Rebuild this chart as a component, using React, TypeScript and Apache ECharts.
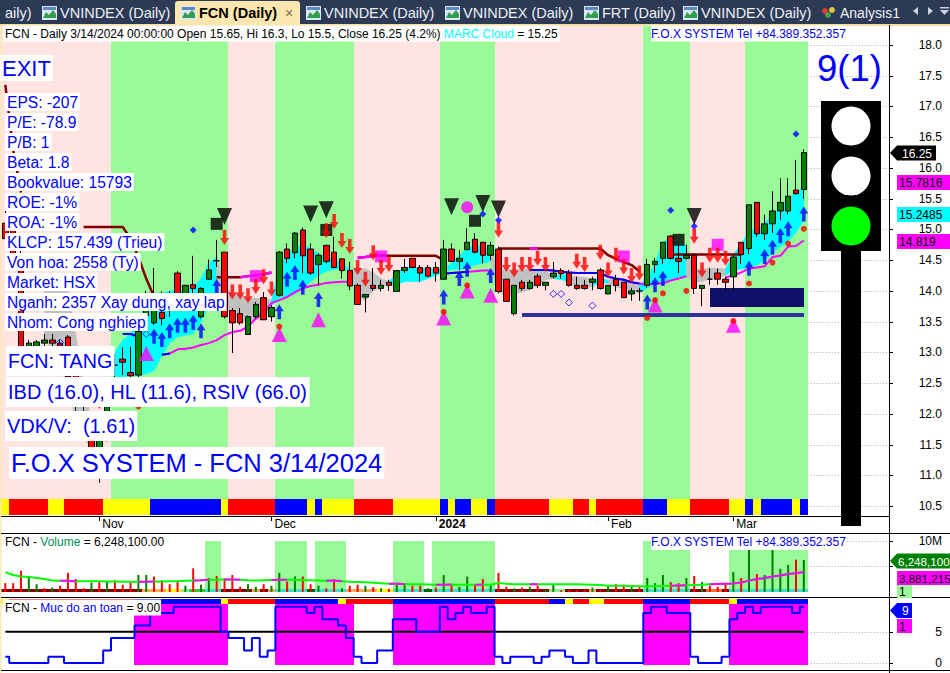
import React, { useEffect, useRef } from "react";
import * as echarts from "echarts";

const FF = '"Liberation Sans", Arial, sans-serif';
const f = (s: number, b = false) => `${b ? "bold " : ""}${s}px ${FF}`;

const GREEN = "#98fb98", PINK = "#ffe4e1", RED = "#ff0000", BLUE = "#0000ff", YEL = "#ffff00", MAG = "#ff00ff";
const CYAN = "#00ffff", GRAY = "#c0c0c0", DRED = "#800000", ORG = "#ffa858", TUR = "#40e0d0", DGR = "#006400", LGR = "#90ee90", MGR = "#32cd32", ORR = "#ff7030";

const categories = [
  "2023-10-16","2023-10-17","2023-10-18","2023-10-19","2023-10-20","2023-10-23","2023-10-24","2023-10-25","2023-10-26","2023-10-27","2023-10-30","2023-10-31",
  "2023-11-01","2023-11-02","2023-11-03","2023-11-06","2023-11-07","2023-11-08","2023-11-09","2023-11-10","2023-11-13","2023-11-14","2023-11-15","2023-11-16","2023-11-17","2023-11-20","2023-11-21","2023-11-22","2023-11-23","2023-11-24","2023-11-27","2023-11-28","2023-11-29","2023-11-30",
  "2023-12-01","2023-12-04","2023-12-05","2023-12-06","2023-12-07","2023-12-08","2023-12-11","2023-12-12","2023-12-13","2023-12-14","2023-12-15","2023-12-18","2023-12-19","2023-12-20","2023-12-21","2023-12-22","2023-12-25","2023-12-26","2023-12-27","2023-12-28","2023-12-29",
  "2024-01-02","2024-01-03","2024-01-04","2024-01-05","2024-01-08","2024-01-09","2024-01-10","2024-01-11","2024-01-12","2024-01-15","2024-01-16","2024-01-17","2024-01-18","2024-01-19","2024-01-22","2024-01-23","2024-01-24","2024-01-25","2024-01-26","2024-01-29","2024-01-30","2024-01-31",
  "2024-02-01","2024-02-02","2024-02-05","2024-02-06","2024-02-07","2024-02-15","2024-02-16","2024-02-19","2024-02-20","2024-02-21","2024-02-22","2024-02-23","2024-02-26","2024-02-27","2024-02-28","2024-02-29",
  "2024-03-01","2024-03-04","2024-03-05","2024-03-06","2024-03-07","2024-03-08","2024-03-11","2024-03-12","2024-03-13","2024-03-14",
  "+1","+2","+3","+4","+5","+6","+7","+8","+9","+10",
];
const monthLabels: Record<string, string> = { "2023-11-01": "Nov", "2023-12-01": "Dec", "2024-01-02": "2024", "2024-02-01": "Feb", "2024-03-01": "Mar" };

const opens = [
  15.1,15.05,14.6,12.95,12.95,13.15,13.2,13.15,13.25,12.75,12.5,11.57,11.4,11.6,12.79,12.89,12.67,12.63,13.6,13.48,
  13.65,13.7,14.29,13.85,14.1,13.58,14.19,14.49,14.63,13.68,13.63,13.29,13.58,13.89,13.58,13.93,14.68,14.62,14.99,14.68,
  14.43,14.74,14.63,14.52,14.33,14.09,13.9,14.09,14.04,14.14,13.99,14.33,14.53,14.38,14.38,14.38,14.19,14.68,14.48,14.67,
  14.84,14.79,14.58,14.68,14.19,13.63,14.14,14.04,14.24,14.09,14.23,14.33,14.29,14.09,14.09,14.14,14.34,13.95,14.19,14.14,
  13.95,14.0,14.09,14.43,14.53,14.89,14.53,14.53,14.58,14.04,14.19,14.29,14.19,14.23,14.79,14.69,15.44,14.93,15.09,15.3,
  15.3,15.64,15.65,
];
const closes = [
  14.85,14.6,12.9,13.15,13.17,13.2,13.15,13.05,12.6,12.35,12.3,11.4,11.57,12.3,12.79,12.84,12.62,13.34,13.95,13.68,
  13.55,13.85,13.91,14.09,14.04,14.04,14.34,14.49,13.58,13.48,13.48,13.58,13.78,13.53,13.73,14.63,14.53,14.94,14.57,14.29,
  14.58,14.48,14.38,14.33,14.08,13.78,13.94,14.04,14.09,14.09,14.33,14.38,14.38,14.29,14.24,14.29,14.68,14.48,14.53,14.79,
  14.63,14.58,14.74,13.99,13.83,14.09,14.04,14.14,14.09,14.14,14.29,14.28,14.09,14.04,14.04,14.19,14.04,14.09,14.09,13.89,
  14.0,14.0,14.43,14.48,14.79,14.53,14.48,14.58,14.04,14.09,14.19,14.19,14.14,14.55,14.59,15.4,14.93,15.09,15.3,15.44,
  15.54,15.58,16.25,
];
const highs = [
  15.4,15.1,14.65,13.2,13.2,13.3,13.3,13.2,13.28,12.8,12.55,11.6,11.6,12.35,12.97,13.08,13.09,13.36,14.0,14.37,
  13.99,13.99,14.32,14.1,14.57,14.06,14.51,14.83,14.63,13.72,13.72,13.6,13.82,13.98,13.77,14.65,14.77,14.96,15.03,14.77,
  14.61,14.75,14.88,14.53,14.47,14.12,13.94,14.37,14.18,14.18,14.34,14.52,14.53,14.42,14.42,14.47,14.83,14.77,14.66,15.02,
  14.94,14.8,14.8,14.72,14.19,14.09,14.18,14.18,14.28,14.14,14.47,14.37,14.34,14.23,14.18,14.23,14.37,14.09,14.26,14.14,
  14.05,14.05,14.52,14.53,14.79,14.91,14.75,14.75,14.61,14.09,14.37,14.36,14.23,14.58,14.79,15.4,15.44,15.24,15.62,15.83,
  15.83,16.13,16.3,
];
const lows = [
  14.85,14.55,12.85,12.9,12.9,13.05,13.05,12.9,12.55,12.05,12.05,11.35,10.88,11.55,12.56,12.63,12.55,12.6,13.55,13.45,
  13.44,13.58,13.88,13.8,13.85,13.55,14.18,14.39,13.55,12.99,13.45,13.29,13.55,13.53,13.5,13.91,14.45,14.53,14.29,14.26,
  14.1,14.45,14.37,14.2,14.01,13.77,13.65,14.0,13.99,14.0,13.99,14.29,14.37,14.15,14.23,14.15,14.18,14.47,14.34,14.67,
  14.61,14.45,14.5,13.96,13.82,13.6,14.0,14.02,14.05,14.01,14.2,14.2,14.07,14.02,14.02,14.01,14.02,13.95,13.99,13.89,
  13.84,13.84,14.05,14.29,14.44,14.51,14.29,14.51,13.95,13.75,14.1,14.1,14.01,14.01,14.44,14.6,14.88,14.83,14.94,15.16,
  15.24,15.59,15.5,
];
const cloudTop: (number | null)[] = [
  null,null,null,null,null,14.0,14.2,14.2,14.0,13.3,12.5,11.9,11.6,null,13.0,13.2,13.3,13.5,13.8,13.96,
  13.96,14.0,14.0,14.03,14.06,14.2,14.45,14.55,14.1,13.95,13.95,13.88,13.88,13.87,13.85,14.4,14.6,14.7,14.75,14.7,
  14.6,14.55,14.5,14.45,14.35,14.38,14.36,14.3,14.2,14.15,14.3,14.38,14.38,14.37,14.36,14.35,14.35,14.45,14.58,14.68,
  14.75,14.72,14.68,14.35,14.35,14.35,14.35,14.35,14.35,14.32,14.24,14.27,14.25,14.23,14.22,14.2,14.19,14.18,14.19,14.18,
  14.15,14.1,14.2,14.45,14.8,14.85,14.78,14.73,14.35,14.36,14.37,14.37,14.36,14.6,14.75,15.0,15.0,15.1,15.25,15.35,
  15.5,15.6,15.7,
];
const cloudBottom: (number | null)[] = [
  null,null,null,null,null,13.2,13.05,12.8,12.4,11.9,11.6,11.45,11.4,null,12.6,12.6,12.62,12.63,12.65,12.7,
  12.95,13.15,13.25,13.28,13.3,13.5,13.75,13.95,13.9,13.48,13.5,13.5,13.53,13.56,13.75,13.9,13.9,13.95,14.05,14.15,
  14.25,14.32,14.35,14.36,14.33,13.9,13.84,14.0,14.05,14.1,14.1,14.15,14.15,14.15,14.2,14.25,14.3,14.35,14.35,14.38,
  14.42,14.45,14.48,13.98,13.92,13.95,13.98,14.02,14.1,14.18,14.2,14.18,14.15,14.05,14.05,14.07,14.15,14.12,14.06,14.03,
  14.0,13.96,14.05,14.1,14.15,14.18,14.2,14.22,14.15,14.15,14.2,14.22,14.25,14.33,14.35,14.38,14.42,14.5,14.62,14.72,
  14.8,14.95,15.15,
];
const cloudCyanRuns = [[14,27],[35,44],[50,62],[71,72],[76,77],[82,87],[93,102]];

const stopLine: (number | null)[] = [
  17.35,16.3,15.6,null,null,null,null,null,null,null,15.04,15.04,15.04,15.04,15.04,15.04,14.85,14.55,14.2,13.9,
  null,null,null,null,null,null,null,14.22,14.22,14.22,14.22,14.24,14.25,14.27,14.3,null,null,null,null,null,
  null,null,null,null,null,14.54,14.55,14.57,14.58,14.57,14.57,14.57,14.57,14.57,14.57,14.57,14.5,null,null,null,
  null,null,null,14.69,14.69,14.69,14.69,14.69,14.69,14.69,14.69,14.69,14.69,14.69,14.69,14.69,14.69,14.58,14.52,14.47,
  14.42,14.32,null,null,null,14.59,14.59,14.59,14.59,14.59,14.59,14.59,14.59,14.59,14.59,null,null,null,null,null,
  null,null,null,
];
const stopMagentaRuns = [[30,34],[45,48],[67,68]];
const trendLine: (number | null)[] = [
  null,null,null,null,null,null,null,null,null,null,null,null,null,null,null,13.3,13.3,13.25,null,null,
  12.96,12.98,13.05,13.06,13.08,13.12,13.15,13.2,13.28,13.33,13.35,13.42,13.55,13.65,13.8,13.85,13.9,13.98,14.04,14.08,
  14.1,14.13,14.14,14.15,14.15,null,null,null,null,null,null,null,null,null,null,null,14.28,14.29,14.3,14.31,
  14.32,14.33,14.33,null,null,null,null,14.34,14.34,14.34,14.33,14.31,14.3,14.29,14.29,14.29,14.29,14.23,14.2,14.18,
  14.14,14.12,14.1,14.12,14.12,14.17,14.2,14.24,null,null,null,null,14.22,14.25,14.3,14.36,14.38,14.4,14.55,14.57,
  14.72,14.73,14.82,
];
const trendBlueRuns = [[15,17],[20,21],[56,59],[67,81]];

const volumes = [
  1.7,1.7,4.1,2.8,1.5,0.7,0.85,1.2,3.7,2.5,0.7,1.8,1.9,2.0,2.3,1.4,1.8,3.3,3.3,3.0,
  2.3,1.5,2.2,1.2,4.6,1.4,2.7,3.1,2.7,3.3,1.0,1.5,1.0,1.5,1.2,3.7,2.0,3.0,3.0,1.5,
  1.2,0.7,2.5,0.7,1.2,1.4,1.2,0.9,0.7,0.6,1.4,1.5,1.2,1.2,0.7,0.85,3.3,1.5,1.0,3.0,
  1.4,2.5,1.5,3.7,1.0,0.7,0.85,1.0,1.2,0.4,1.5,0.3,0.5,0.4,0.5,0.85,0.4,1.2,1.5,1.4,
  1.2,0.9,2.7,1.7,3.3,1.9,1.7,2.7,3.1,1.9,1.2,1.0,1.5,3.9,2.7,8.2,3.5,3.3,8.2,4.5,
  5.3,6.3,6.2481,
];
const volumeUp = [
  0,0,0,1,1,0,1,0,0,0,0,1,0,1,0,0,0,1,1,0,
  0,0,0,1,0,1,1,0,0,0,0,1,1,0,1,1,0,1,0,0,
  1,0,0,1,0,0,1,0,1,0,1,1,0,0,1,0,1,0,1,1,
  0,0,1,0,0,1,0,1,0,1,1,0,0,0,0,1,0,1,0,0,
  1,0,1,1,1,0,0,1,0,1,0,0,0,1,0,1,0,1,1,1,
  1,0,1,
];
const volumeAverage = [
  3.85,3.3,3.0,2.9,2.7,2.5,2.2,2.15,2.15,2.1,2.1,2.1,2.1,2.05,2.05,2.0,2.0,2.0,2.0,2.05,
  2.05,2.1,2.1,2.15,2.2,2.25,2.35,2.35,2.4,2.4,2.35,2.25,2.2,2.25,2.3,2.35,2.35,2.35,2.3,2.25,
  2.2,2.15,2.2,2.1,2.0,1.95,1.9,1.8,1.7,1.6,1.6,1.55,1.5,1.5,1.45,1.4,1.4,1.45,1.4,1.4,
  1.4,1.4,1.4,1.75,1.6,1.5,1.5,1.5,1.5,1.5,1.5,1.5,1.5,1.5,1.45,1.4,1.35,1.2,1.2,1.2,
  1.15,1.1,1.05,1.1,1.15,1.2,1.25,1.3,1.35,1.4,1.5,1.55,1.6,1.65,1.85,2.2,2.5,2.7,3.0,3.2,
  3.5,3.65,3.88,
];
const volumeMagentaRuns = [[7,9],[17,19],[24,26],[28,30],[34,36],[41,43],[49,51],[55,57],[60,61],[67,68],[85,87],[90,102]];

const safety = [
  1,0,0,0,0,0,1,1,0,0,0,0,0,2,4,4,4,6,6,8,
  8,8,9,9,9,9,9,9,5,4,4,2,4,1,2,9,9,9,9,8,
  9,7,7,6,4,1,0,0,2,2,7,7,7,5,5,5,9,7,8,9,
  8,8,9,1,0,1,1,1,0,1,2,2,1,0,0,2,0,0,0,0,
  0,0,8,9,9,8,8,8,1,0,0,0,1,7,8,9,8,9,9,9,
  9,8,9,
];
const safeLine = safety.map(() => 5);

// Runs: [first bar, last bar, colour]
const regimeRuns: [number, number, string][] = [[0,13,PINK],[14,28,GREEN],[29,34,PINK],[35,44,GREEN],[45,55,PINK],[56,62,GREEN],[63,81,PINK],[82,87,GREEN],[88,94,PINK],[95,102,GREEN]];
const stripRuns: [number, number, string][] = [[0,0,YEL],[1,5,RED],[6,7,YEL],[8,12,RED],[13,18,YEL],[19,27,BLUE],[28,28,YEL],[29,34,RED],[35,38,BLUE],[39,39,YEL],[40,40,BLUE],[41,44,YEL],[45,49,RED],[50,55,YEL],[56,56,BLUE],[57,57,YEL],[58,59,BLUE],[60,61,YEL],[62,62,BLUE],[63,69,RED],[70,72,YEL],[73,74,RED],[75,75,YEL],[76,81,RED],[82,84,BLUE],[85,87,YEL],[88,92,RED],[93,94,YEL],[95,95,BLUE],[96,96,YEL],[97,100,BLUE],[101,101,YEL],[102,102,BLUE]];
const volumeStripRuns: [number, number, string][] = [[0,17,DRED],[18,20,ORG],[21,22,YEL],[23,23,LGR],[24,25,MGR],[26,27,TUR],[28,31,DRED],[32,32,ORG],[33,33,DRED],[34,34,ORG],[35,38,TUR],[39,39,DGR],[40,43,TUR],[44,47,ORG],[48,49,YEL],[50,53,TUR],[54,54,DGR],[55,62,TUR],[63,69,DRED],[70,71,LGR],[72,74,DRED],[75,75,ORG],[76,81,DRED],[82,87,TUR],[88,89,DRED],[90,91,ORR],[92,92,DRED],[93,102,TUR]];
const volumeBandRuns: [number, number, number][] = [[26,27,10],[35,38,10],[40,43,10],[50,53,10],[55,62,10],[82,87,10],[93,102,8.2]];
const safetyBandRuns: [number, number][] = [[17,28],[35,44],[50,62],[82,87],[93,102]];
const safetyStripRuns: [number, number, string][] = [[0,0,YEL],[1,16,RED],[17,27,BLUE],[28,28,YEL],[29,34,RED],[35,42,BLUE],[43,43,YEL],[44,49,RED],[50,62,BLUE],[63,69,RED],[70,71,BLUE],[72,72,YEL],[73,74,RED],[75,76,YEL],[77,81,RED],[82,87,BLUE],[88,92,RED],[93,93,YEL],[94,102,BLUE]];

type P = [number, number];
const redArrows: P[] = [[12,12.2],[28,14.87],[29,13.98],[30,13.98],[31,13.92],[32,14.07],[33,14.23],[34,14.03],[41,14.98],[42,15.13],[43,14.82],[44,14.72],[45,14.38],[46,14.19],[47,14.62],[48,14.38],[49,14.43],[63,14.99],[64,14.43],[65,14.34],[66,14.43],[67,14.43],[68,14.53],[69,14.43],[73,14.48],[74,14.43],[76,14.63],[77,14.34],[78,14.58],[79,14.39],[80,14.25],[81,14.29],[88,14.89],[89,14.34],[90,14.58],[91,14.58],[92,14.53]];
const blueArrows: P[] = [[19,13.26],[20,13.21],[21,13.35],[22,13.44],[23,13.44],[24,13.49],[25,13.35],[27,14.07],[35,13.66],[36,14.19],[37,14.3],[38,14.06],[40,13.86],[56,13.9],[58,14.2],[59,14.35],[62,14.25],[82,13.82],[83,14.1],[84,14.2],[95,14.37],[97,14.56],[98,14.71],[99,14.9],[100,15.01],[102,15.25]];
const redDots: P[] = [[17,12.12],[35,13.42],[56,13.66],[59,14.09],[82,13.56],[83,13.85],[84,13.96],[87,14.0],[93,13.51],[95,14.12],[98,14.46],[100,14.77],[102,15.01]];
const magentaTriangles: P[] = [[18,12.98],[35,13.29],[40,13.53],[56,13.56],[59,14.0],[62,13.93],[83,13.77],[93,13.44]];
const blackTriangles: P[] = [[28,15.21],[39,15.25],[41,15.32],[57,15.37],[61,15.42],[63,15.33],[88,15.21]];
const blackSquares: P[] = [[27,15.09],[41,14.99],[60,15.14],[86,14.83]];
const magentaSquares: P[] = [[32,14.24],[48,14.56],[79,14.56],[91,14.75]];
const magentaCircles: P[] = [[59,15.36]];
const blueDiamonds: P[] = [[24,14.99],[61,15.25],[63,15.15],[85,15.31],[88,15.05],[101,16.55]];
const hollowDiamonds: P[] = [[7,13.16],[18,13.3],[70,13.95],[71,13.95],[72,13.81],[75,13.76]];
const supportBox: [number, number, number, number, string][] = [[66,102,13.58,13.64,"#3030a0"],[90,102,13.73,14.05,"#10106a"]];

const priceTicks = [10.5,11,11.5,12,12.5,13,13.5,14,14.5,15,15.5,16,16.5,17,17.5,18];
const volumeTicks = [5,10];
const safetyTicks = [0,5];

const pick = (values: (number | null)[], runs: number[][]) =>
  values.map((v, i) => (runs.some(([a, b]) => i >= a && i <= b) ? v : null));

const barSeries = (rows: [number, number, number, number, string][], g: number, z: number, inner = false) => ({
  type: "custom", coordinateSystem: "cartesian2d", xAxisIndex: g, yAxisIndex: g, z, silent: true, clip: false,
  encode: { x: 0, y: 1 },
  data: rows.map((r) => [r[0], r[2]]),
  renderItem: (params: any, api: any) => {
    const r = rows[params.dataIndex];
    const w = inner ? 0 : api.size([1, 0])[0] / 2;
    const a = api.coord([r[0], r[3]]);
    const b = api.coord([r[1], r[2]]);
    const x0 = Math.round(a[0] - w), x1 = Math.round(b[0] + w);
    return { type: "rect", shape: { x: x0, y: Math.round(a[1]), width: x1 - x0, height: Math.round(b[1]) - Math.round(a[1]) }, style: { fill: r[4] } };
  },
});

const tickSeries = (ticks: number[], g: number) => ({
  type: "custom", coordinateSystem: "cartesian2d", xAxisIndex: g, yAxisIndex: g, z: 1, silent: true, clip: false,
  encode: { x: 0, y: 1 },
  data: ticks.map((v) => [102, v]),
  renderItem: (params: any, api: any) => {
    const c = api.coord([102, api.value(1)]);
    const w = api.size([1, 0])[0] / 2;
    const y = Math.round(c[1]) + 0.5;
    const edge = params.coordSys.x + params.coordSys.width + 3;
    return {
      type: "group",
      children: [
        { type: "line", shape: { x1: c[0] + w, y1: y, x2: edge, y2: y }, style: { stroke: "#aaa", lineWidth: 1, lineDash: [1, 2] } },
        { type: "line", shape: { x1: edge, y1: y, x2: edge + 4, y2: y }, style: { stroke: "#000", lineWidth: 1 } },
      ],
    };
  },
});

const cloudSeries = () => {
  const rows: number[] = [];
  cloudTop.forEach((v, i) => { if (v != null && cloudTop[i + 1] != null) rows.push(i); });
  return {
    type: "custom", coordinateSystem: "cartesian2d", xAxisIndex: 0, yAxisIndex: 0, z: 2, silent: true, clip: false,
    encode: { x: 0, y: 1 },
    data: rows.map((i) => [i, cloudTop[i]]),
    renderItem: (params: any, api: any) => {
      const i = rows[params.dataIndex];
      const cyan = cloudCyanRuns.some(([a, b]) => i + 1 >= a && i + 1 <= b);
      const fill = cyan ? CYAN : GRAY;
      return {
        type: "polygon",
        shape: { points: [api.coord([i, cloudTop[i]]), api.coord([i + 1, cloudTop[i + 1]]), api.coord([i + 1, cloudBottom[i + 1]]), api.coord([i, cloudBottom[i]])] },
        style: { fill, stroke: fill, lineWidth: 0.5 },
      };
    },
  };
};

const lineSeries = (data: (number | null)[], color: string, width: number, g = 0, z = 3, extra: any = {}) => ({
  type: "line", data, xAxisIndex: g, yAxisIndex: g, z, showSymbol: false, symbol: "none", silent: true, connectNulls: false,
  lineStyle: { color, width }, ...extra,
});
const marks = (data: P[], symbol: string, symbolSize: any, color: string, extra: any = {}) => ({
  type: "scatter", data, xAxisIndex: 0, yAxisIndex: 0, z: 5, symbol, symbolSize, silent: true, clip: false,
  itemStyle: { color }, ...extra,
});

const DOWN = "path://M2.7 0H6.3V8H9L4.5 15L0 8H2.7Z";
const UP = "path://M4.5 0L9 7H6.3V15H2.7V7H0Z";

// ---------- page furniture ----------
const Z = 100;
const txt = (x: number, y: number, text: string, font: string, fill: string, extra: any = {}, z = Z) => ({
  type: "text", x, y, z, silent: true,
  style: { text, font, fill, verticalAlign: "middle", ...extra },
});
const box = (x: number, y: number, width: number, height: number, fill: string, z = Z) => ({
  type: "rect", z, silent: true, shape: { x, y, width, height }, style: { fill },
});
const ln = (x1: number, y1: number, x2: number, y2: number, stroke = "#000", lineWidth = 1, z = Z) => ({
  type: "line", z, silent: true, shape: { x1, y1, x2, y2 }, style: { stroke, lineWidth },
});
const label = (x: number, y: number, text: string, size: number, h: number) =>
  txt(x, y, text, f(size), BLUE, { backgroundColor: "#fff", padding: [Math.round((h - size) / 2), 2, Math.round((h - size) / 2), 2] });
const tabIcon = (x: number) => ([
  box(x, 6, 15, 14, "#dce6f4"),
  { type: "polygon", z: Z, silent: true, shape: { points: [[x + 1, 18], [x + 4, 12], [x + 7, 15], [x + 11, 10], [x + 14, 14], [x + 14, 18]] }, style: { fill: "#2f9e4f" } },
  box(x + 1, 7, 13, 3, "#5d8ac4"),
]);
const tagLeft = (yc: number, x2: number, fill: string, text: string, color: string, tx = 898, size = 12) => ([
  { type: "polygon", z: Z, silent: true, shape: { points: [[890, yc], [897, yc - 7.5], [x2, yc - 7.5], [x2, yc + 7.5], [897, yc + 7.5]] }, style: { fill } },
  txt(tx, yc + 0.5, text, f(size), color),
]);
const tagBox = (y: number, x2: number, h: number, fill: string, text: string, size = 12) => ([
  box(897, y, x2 - 897, h, fill),
  txt(899, y + h / 2 + 0.5, text, f(size), "#000"),
]);

const TAB = f(14.5);
const graphics: any[] = [
  box(0, 0, 950, 24, "#2c3a56"),
  box(0, 24, 950, 2, "#f5dfa0"),
  box(0, 25, 1.5, 648, "#fbe9b8"),
  txt(5, 13, "aily)", TAB, "#eef1f5"),
  ...tabIcon(42), txt(60, 13, "VNINDEX (Daily)", TAB, "#eef1f5"),
  { type: "rect", z: Z, silent: true, shape: { x: 175, y: 1, width: 125, height: 24, r: [3, 3, 0, 0] }, style: { fill: "#fde7ae" } },
  ...tabIcon(181), txt(199, 13, "FCN (Daily)", f(14.5, true), "#000"), txt(285, 13, "×", f(14), "#7a6a50"),
  ...tabIcon(306), txt(324, 13, "VNINDEX (Daily)", TAB, "#eef1f5"),
  ...tabIcon(445), txt(463, 13, "VNINDEX (Daily)", TAB, "#eef1f5"),
  ...tabIcon(584), txt(602, 13, "FRT (Daily)", TAB, "#eef1f5"),
  ...tabIcon(683), txt(701, 13, "VNINDEX (Daily)", TAB, "#eef1f5"),
  { type: "circle", z: Z, silent: true, shape: { cx: 825, cy: 11, r: 3 }, style: { fill: "#e23b2e" } },
  { type: "circle", z: Z, silent: true, shape: { cx: 832, cy: 10, r: 3 }, style: { fill: "#e8c23a" } },
  { type: "circle", z: Z, silent: true, shape: { cx: 828, cy: 15, r: 3 }, style: { fill: "#3fa34d" } },
  txt(840, 13, "Analysis1", f(14), "#eef1f5"),
  { type: "polygon", z: Z, silent: true, shape: { points: [[918, 7], [918, 15], [913, 11]] }, style: { fill: "#ccd3de" } },
  { type: "polygon", z: Z, silent: true, shape: { points: [[928, 7], [928, 15], [933, 11]] }, style: { fill: "#ccd3de" } },
  { type: "polygon", z: Z, silent: true, shape: { points: [[940, 10], [949, 10], [944.5, 15]] }, style: { fill: "#ccd3de" } },
  box(940, 7, 9, 1.5, "#ccd3de"),

  ln(1, 516.5, 889, 516.5), ln(1, 533.5, 950, 533.5), ln(1, 597.5, 950, 597.5), ln(1, 670.5, 950, 670.5),
  ln(889.5, 25, 889.5, 673),

  // header lines
  {
    type: "text", x: 3, y: 33.5, z: Z, silent: true,
    style: {
      text: "{k|FCN - Daily 3/14/2024 00:00:00 Open 15.65, Hi 16.3, Lo 15.5, Close 16.25 (4.2%) }{c|MARC Cloud}{k| = 15.25}",
      verticalAlign: "middle", backgroundColor: "#fff", padding: [2, 2, 2, 2],
      rich: { k: { font: f(12), fill: "#000" }, c: { font: f(12), fill: CYAN } },
    },
  },
  txt(651, 33.5, "F.O.X SYSTEM Tel +84.389.352.357", f(12), "#0000ee", { backgroundColor: "#fff", padding: [2, 0, 2, 0] }),
  {
    type: "text", x: 5, y: 542, z: Z, silent: true,
    style: {
      text: "{k|FCN - }{c|Volume}{k| = 6,248,100.00}", verticalAlign: "middle",
      rich: { k: { font: f(12), fill: "#000" }, c: { font: f(12), fill: "#008f5a" } },
    },
  },
  txt(651, 542, "F.O.X SYSTEM Tel +84.389.352.357", f(12), "#0000ee", { backgroundColor: "#fff", padding: [2, 0, 2, 0] }),
  {
    type: "text", x: 3, y: 607.5, z: Z, silent: true,
    style: {
      text: "{k|FCN - }{c|Muc do an toan}{k| = 9.00}", verticalAlign: "middle", backgroundColor: "#fff", padding: [2, 1, 2, 2],
      rich: { k: { font: f(12), fill: "#000" }, c: { font: f(12), fill: BLUE } },
    },
  },

  // left text blocks
  label(0, 68, "EXIT", 22, 26),
  label(5, 102, "EPS: -207", 15.6, 18),
  label(5, 122, "P/E: -78.9", 15.6, 18),
  label(5, 142, "P/B: 1", 15.6, 18),
  label(5, 162, "Beta: 1.8", 15.6, 18),
  label(5, 182, "Bookvalue: 15793", 15.6, 18),
  label(5, 202, "ROE: -1%", 15.6, 18),
  label(5, 222, "ROA: -1%", 15.6, 18),
  label(5, 242, "KLCP: 157.439 (Trieu)", 15.6, 18),
  label(5, 262, "Von hoa: 2558 (Ty)", 15.6, 18),
  label(5, 282, "Market: HSX", 15.6, 18),
  label(5, 302, "Nganh: 2357 Xay dung, xay lap", 15.6, 18),
  label(5, 322, "Nhom: Cong nghiep", 15.6, 18),
  label(6, 361, "FCN: TANG", 19.7, 29),
  label(6, 392, "IBD (16.0), HL (11.6), RSIV (66.0)", 20, 29),
  label(5, 426, "VDK/V:  (1.61)", 20, 29),
  label(9, 463, "F.O.X SYSTEM - FCN 3/14/2024", 25.5, 31),

  // traffic light
  txt(817, 68, "9(1)", f(36.5), BLUE),
  box(841, 251, 20, 275, "#000"),
  box(821, 101, 60, 150, "#000"),
  { type: "circle", z: Z, silent: true, shape: { cx: 851, cy: 126, r: 19.5 }, style: { fill: "#fff" } },
  { type: "circle", z: Z, silent: true, shape: { cx: 851, cy: 176, r: 19.5 }, style: { fill: "#fff" } },
  { type: "circle", z: Z, silent: true, shape: { cx: 851, cy: 226, r: 19.5 }, style: { fill: "#00ff00" } },

  // value tags on the right axis
  ...tagLeft(153, 936, "#000", "16.25", "#fff", 902),
  ...tagBox(175, 950, 15, MAG, "15.7816"),
  ...tagBox(207, 950, 15, CYAN, "15.2485"),
  ...tagBox(234, 950, 15, MAG, "14.819"),
  ...tagLeft(561, 950, "#008000", "6,248,100", "#fff", 898, 11.6),
  ...tagBox(571, 950, 14, MAG, "3,881,215", 11.6),
  ...tagBox(585, 912, 13, GREEN, "1"),
  ...tagLeft(610.5, 912, BLUE, "9", "#fff", 902),
  ...tagBox(619, 912, 14, MAG, "1"),
];

const xInterval = (index: number, value: string) => !!monthLabels[value];
const xAxisOf = (gridIndex: number, withLabel: boolean) => ({
  type: "category", gridIndex, data: categories, boundaryGap: true,
  axisLine: { show: false, onZero: false },
  axisTick: withLabel ? { show: true, interval: xInterval, alignWithLabel: true, length: 5, lineStyle: { color: "#000" } } : { show: false },
  splitLine: { show: false },
  axisLabel: withLabel
    ? {
        show: true, interval: xInterval, align: "left", margin: 2, padding: [0, 0, 0, 3], hideOverlap: false,
        formatter: (v: string) => (v.startsWith("2024-01") ? `{b|${monthLabels[v]}}` : monthLabels[v] || ""),
        fontFamily: FF, fontSize: 12, color: "#000",
        rich: { b: { fontFamily: FF, fontSize: 12, fontWeight: "bold", color: "#000" } },
      }
    : { show: false },
});
const yAxisOf = (gridIndex: number, min: number, max: number, labels: number[], fmt: (v: number) => string) => ({
  type: "value", gridIndex, position: "right", min, max, offset: 3, scale: true,
  axisLine: { show: false },
  axisTick: { show: false },
  axisLabel: { show: true, customValues: labels, formatter: fmt, align: "right", margin: 53, fontFamily: FF, fontSize: 12, color: "#000" },
  splitLine: { show: false },
});

const CANDLES = opens.map((o, i) => [o, closes[i], lows[i], highs[i]]);
const regimeBars = regimeRuns.map(([a, b, c]) => [a, b, 10.61, 18.325, c] as [number, number, number, number, string]);
const stripBars = stripRuns.map(([a, b, c]) => [a, b, 10.35, 10.61, c] as [number, number, number, number, string]);
const volStripBars = volumeStripRuns.map(([a, b, c]) => [a, b, 0, 0.55, c] as [number, number, number, number, string]);
const volBands = volumeBandRuns.map(([a, b, t]) => [a, b, 0, t, GREEN] as [number, number, number, number, string]);
const safetyBands = safetyBandRuns.map(([a, b]) => [a, b, -0.32, 9.4, MAG] as [number, number, number, number, string]);
const safetyStrip = safetyStripRuns.map(([a, b, c]) => [a, b, 9.4, 10.3, c] as [number, number, number, number, string]);

const option: any = {
  animation: false,
  backgroundColor: "#fff",
  graphic: { elements: graphics },
  grid: [
    { left: 1.4, right: 64, top: 25, height: 491, containLabel: false },
    { left: 1.4, right: 64, top: 533, height: 64 },
    { left: 1.4, right: 64, top: 597, height: 73 },
  ],
  xAxis: [xAxisOf(0, true), xAxisOf(1, false), xAxisOf(2, false)],
  yAxis: [
    yAxisOf(0, 10.338, 18.325, priceTicks, (v) => v.toFixed(1)),
    yAxisOf(1, -1, 11.5, [10], (v) => `${v}M`),
    yAxisOf(2, -1.118, 10.54, safetyTicks, (v) => `${v}`),
  ],
  series: [
    barSeries(regimeBars, 0, 1),
    barSeries(stripBars, 0, 1),
    tickSeries(priceTicks, 0),
    tickSeries(volumeTicks, 1),
    tickSeries(safetyTicks, 2),
    cloudSeries(),
    barSeries(supportBox, 0, 3, true),
    lineSeries(stopLine, DRED, 2.5),
    lineSeries(pick(stopLine, stopMagentaRuns), MAG, 2.5),
    lineSeries(trendLine, MAG, 2),
    lineSeries(pick(trendLine, trendBlueRuns), BLUE, 2),
    {
      type: "candlestick", data: CANDLES, xAxisIndex: 0, yAxisIndex: 0, z: 4, barWidth: 6, silent: true, clip: false,
      itemStyle: { color: "#008000", color0: RED, borderColor: "#000", borderColor0: "#000", borderWidth: 1 },
    },
    marks(magentaTriangles, "triangle", [15, 15], MAG),
    marks(blackTriangles, "triangle", [15, 17], "#000", { symbolRotate: 180 }),
    marks(blackSquares, "rect", 12, "#000"),
    marks(magentaSquares, "rect", 12, MAG),
    marks(magentaCircles, "circle", 12, MAG),
    marks(redArrows, DOWN, [9, 15], RED),
    marks(blueArrows, UP, [9, 15], BLUE),
    marks(redDots, "circle", 6, RED),
    marks(blueDiamonds, "diamond", 7, BLUE),
    marks(hollowDiamonds, "diamond", 7, "transparent", { itemStyle: { color: "transparent", borderColor: BLUE, borderWidth: 1 } }),

    barSeries(volBands, 1, 1),
    barSeries(volStripBars, 1, 2),
    {
      type: "bar", data: volumes.map((v, i) => ({ value: v, itemStyle: { color: volumeUp[i] ? "#008000" : RED } })),
      xAxisIndex: 1, yAxisIndex: 1, z: 3, barWidth: 2, silent: true,
    },
    lineSeries(volumeAverage, "#00ff00", 2, 1, 4),
    lineSeries(pick(volumeAverage, volumeMagentaRuns), MAG, 2, 1, 4),

    barSeries(safetyBands, 2, 1),
    barSeries(safetyStrip, 2, 2),
    lineSeries(safeLine, "#000", 2, 2, 3),
    lineSeries(safety, BLUE, 2, 2, 4, { step: "middle" }),
  ],
};

export default function App() {
  const ref = useRef<HTMLDivElement>(null);
  useEffect(() => {
    document.body.style.margin = "0";
    const chart = echarts.init(ref.current as HTMLDivElement, undefined, { renderer: "svg" });
    chart.setOption(option);
    return () => chart.dispose();
  }, []);
  return <div ref={ref} style={{ position: "fixed", left: 0, top: 0, width: 950, height: 673 }} />;
}
